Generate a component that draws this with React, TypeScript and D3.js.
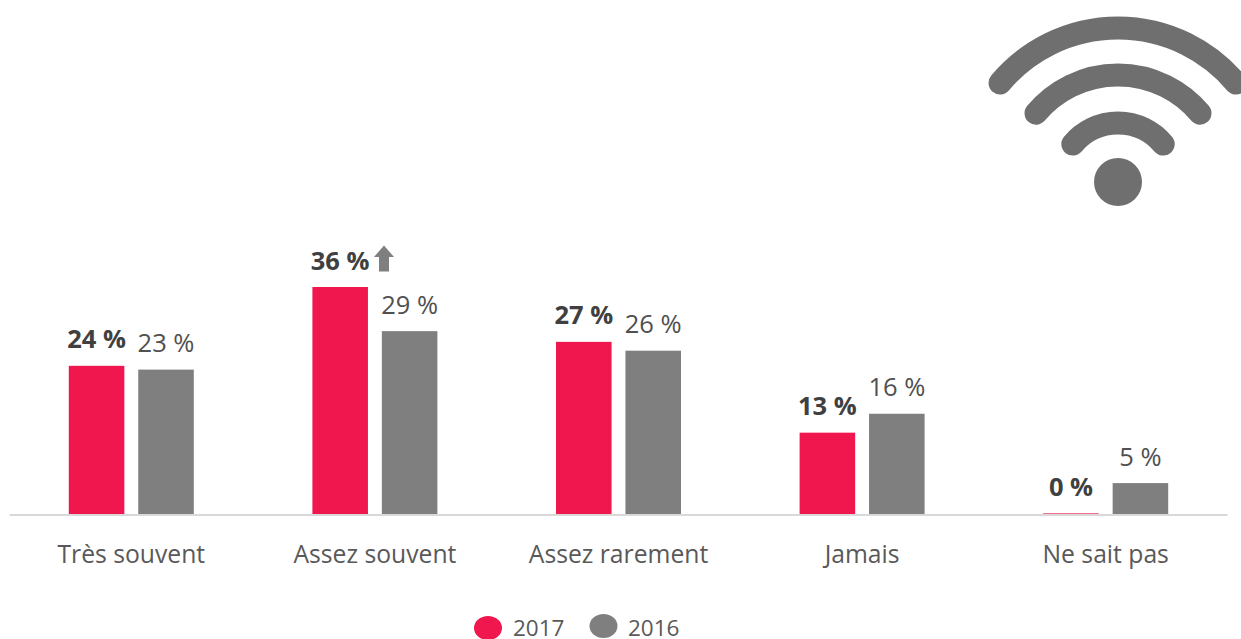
import React from "react";
import * as d3 from "d3";

const categories = ["Très souvent", "Assez souvent", "Assez rarement", "Jamais", "Ne sait pas"];
const values2017 = [23.5, 36, 27.3, 12.9, 0.1];
const values2016 = [22.9, 29, 25.9, 15.9, 4.9];
const labels2017 = ["24 %", "36 %", "27 %", "13 %", "0 %"];
const labels2016 = ["23 %", "29 %", "26 %", "16 %", "5 %"];
const seriesNames = ["2017", "2016"];
const wifiRadii = [59, 107, 154];

const W = 1241, H = 639;
const RED = "#f0174e", GREY = "#7f7f7f", ICON = "#6f6f6f";
const FONT = "'Open Sans', sans-serif";

function arcPath(r: number) {
  const p = d3.path();
  p.arc(0, 0, r, (-140 * Math.PI) / 180, (-40 * Math.PI) / 180);
  return p.toString();
}

export default function App() {
  const x0 = d3.scaleBand<string>().domain(categories).range([9.5, 1227.5]);
  const x1 = d3.scaleBand<string>().domain(seriesNames).range([-62.5, 62.5]).paddingInner(0.2);
  const y = d3.scaleLinear().domain([0, 36]).range([514, 287]);
  const cx = (c: string) => x0(c)! + x0.bandwidth() / 2;
  const series = [
    { name: "2017", vals: values2017, labs: labels2017, color: RED, weight: 700, fill: "#404040" },
    { name: "2016", vals: values2016, labs: labels2016, color: GREY, weight: 400, fill: "#505050" },
  ];
  return (
    <svg width={W} height={H} style={{ position: "absolute", left: 0, top: 0, fontFamily: FONT }}>
      <g transform="translate(1118,182)">
        {wifiRadii.map(r => (
          <path key={r} d={arcPath(r)} fill="none" stroke={ICON} strokeWidth={23} strokeLinecap="round" />
        ))}
        <circle r={24} fill={ICON} />
      </g>
      {categories.map((c, i) => (
        <g key={c}>
          {series.map(s => {
            const bx = cx(c) + x1(s.name)!;
            const by = y(s.vals[i]);
            return (
              <g key={s.name}>
                <rect x={bx} y={by} width={x1.bandwidth()} height={y(0) - by} fill={s.color} />
                <text x={bx + x1.bandwidth() / 2} y={by - 17.5} textAnchor="middle" fontSize={25.5} fontWeight={s.weight} fill={s.fill}>
                  {s.labs[i]}
                </text>
              </g>
            );
          })}
          <text x={cx(c)} y={563} textAnchor="middle" fontSize={24.7} fill="#595959">{c}</text>
        </g>
      ))}
      <line x1={9.5} x2={1227.5} y1={515} y2={515} stroke="#d9d9d9" strokeWidth={2} />
      <path d="M384 245.5L394 257H389V271.5H379V257H374Z" fill={GREY} />
      <ellipse cx={488} cy={628} rx={14} ry={12} fill={RED} />
      <text x={513} y={636} fontSize={22.5} fill="#595959">{seriesNames[0]}</text>
      <ellipse cx={603.5} cy={626} rx={14} ry={12} fill={GREY} />
      <text x={628} y={636} fontSize={22.5} fill="#595959">{seriesNames[1]}</text>
    </svg>
  );
}
